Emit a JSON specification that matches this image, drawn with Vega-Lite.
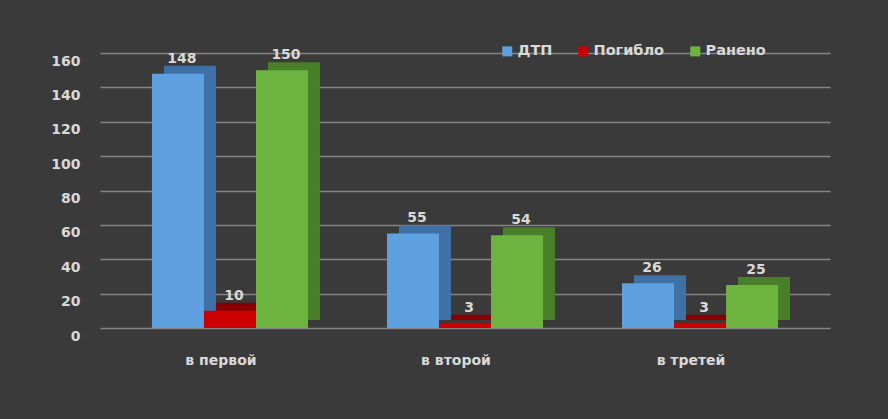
{
  "$schema": "https://vega.github.io/schema/vega-lite/v6.json",
  "width": 730,
  "height": 275,
  "padding": {"left": 100, "top": 53, "right": 58, "bottom": 91},
  "autosize": {"type": "none"},
  "background": "#3a3a3a",
  "config": {
    "view": {"stroke": null},
    "font": "DejaVu Sans",
    "axis": {"labelColor": "#d9d9d9", "labelFont": "DejaVu Sans", "labelFontWeight": "bold", "labelFontSize": 14, "domain": false, "ticks": false, "title": null}
  },
  "data": {
    "values": [
      {"group": "в первой", "series": "ДТП", "value": 148},
      {"group": "в первой", "series": "Погибло", "value": 10},
      {"group": "в первой", "series": "Ранено", "value": 150},
      {"group": "в второй", "series": "ДТП", "value": 55},
      {"group": "в второй", "series": "Погибло", "value": 3},
      {"group": "в второй", "series": "Ранено", "value": 54},
      {"group": "в третей", "series": "ДТП", "value": 26},
      {"group": "в третей", "series": "Погибло", "value": 3},
      {"group": "в третей", "series": "Ранено", "value": 25}
    ]
  },
  "encoding": {
    "x": {
      "field": "group", "type": "nominal", "sort": null,
      "scale": {"paddingInner": 0.336, "paddingOuter": 0.221},
      "axis": {"labelAngle": 0, "labelPadding": 25, "labelOffset": -9, "grid": false}
    },
    "y": {
      "field": "value", "type": "quantitative",
      "scale": {"domain": [0, 160], "nice": false},
      "axis": {"values": [0, 20, 40, 60, 80, 100, 120, 140, 160], "gridColor": "#858585", "gridWidth": 1.5, "labelPadding": 20, "labelOffset": 8}
    }
  },
  "layer": [
    {
      "mark": {"type": "bar", "yOffset": -8},
      "encoding": {
        "xOffset": {"field": "series", "type": "nominal", "sort": ["ДТП", "Погибло", "Ранено"], "scale": {"paddingInner": 0, "range": [12, 168]}},
        "color": {
          "field": "series", "type": "nominal", "legend": null,
          "scale": {"domain": ["ДТП", "Погибло", "Ранено"], "range": ["#3f71a6", "#8a0000", "#4a7f2a"]}
        }
      }
    },
    {
      "mark": {"type": "bar"},
      "encoding": {
        "xOffset": {"field": "series", "type": "nominal", "sort": ["ДТП", "Погибло", "Ранено"], "scale": {"paddingInner": 0}},
        "color": {
          "field": "series", "type": "nominal",
          "scale": {"domain": ["ДТП", "Погибло", "Ранено"], "range": ["#5fa0e0", "#cc0000", "#6db33f"]},
          "legend": {
            "orient": "none", "legendX": 400, "legendY": -9, "direction": "horizontal", "title": null,
            "symbolType": "square", "symbolSize": 100, "symbolStrokeWidth": 0,
            "labelColor": "#d9d9d9", "labelFont": "DejaVu Sans", "labelFontWeight": "bold", "labelFontSize": 14.5,
            "columnPadding": 23, "labelOffset": 3
          }
        }
      }
    },
    {
      "mark": {"type": "text", "dy": -15, "dx": 4, "color": "#d9d9d9", "font": "DejaVu Sans", "fontWeight": "bold", "fontSize": 14},
      "encoding": {
        "xOffset": {"field": "series", "type": "nominal", "sort": ["ДТП", "Погибло", "Ранено"], "scale": {"paddingInner": 0}},
        "text": {"field": "value", "type": "quantitative"},
        "detail": {"field": "series"}
      }
    }
  ],
  "resolve": {"scale": {"color": "independent", "xOffset": "independent"}}
}
